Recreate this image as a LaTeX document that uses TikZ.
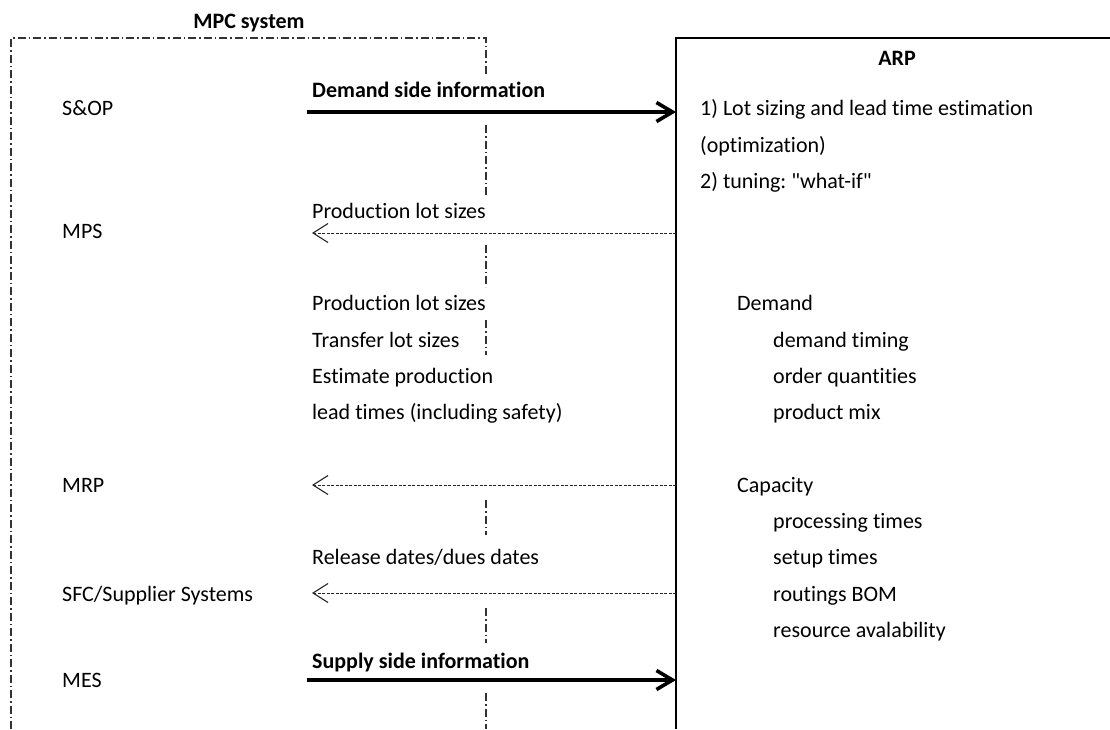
\documentclass[tikz,border=0pt]{standalone}
\usepackage{fontspec}
\setmainfont{Carlito}[Ligatures={TeXOff,NoCommon}]
\usetikzlibrary{arrows.meta}
\frenchspacing
\begin{document}
\begin{tikzpicture}[x=1pt,y=-1pt,
  every node/.style={font=\fontsize{22}{26}\selectfont, inner sep=0pt, text=black},
  lbl/.style={anchor=base west},
  blbl/.style={anchor=base west, font=\fontsize{22}{26}\selectfont\bfseries},
  ttl/.style={anchor=base, font=\fontsize{22}{26}\selectfont\bfseries},
  frame/.style={line width=1.3pt, black!80, dash pattern=on 8pt off 3pt on 1.5pt off 3pt},
  flowin/.style={line width=3.6pt, -{Straight Barb[length=16pt,width=19pt]}},
  flowback/.style={line width=1pt, black!85, dash pattern=on 3pt off 1.5pt,
                   -{Straight Barb[length=15pt,width=19pt,line width=1.1pt]}},
  arpedge/.style={line width=2.4pt}]
\useasboundingbox (0,0) rectangle (1110,729);

% MPC system frame (dash-dot), right side broken around the labels
\node[ttl] (mpc) at (249,28) {MPC system};
\draw[frame] (11,729) -- (11,38) -- (486,38) -- (486,75);
\foreach \a/\b in {125/197,245/287,320/355,500/535,608/643,693/729}
  \draw[frame] (486,\a) -- (486,\b);

% ARP box (open to the right and bottom)
\draw[arpedge] (676,729) -- (676,38) -- (1110,38);
\node[ttl] (arp) at (897,65) {ARP};

% MPC levels
\node[lbl] (sop) at (62,115) {S\&OP};
\node[lbl] (mps) at (62,238) {MPS};
\node[lbl] (mrp) at (62,492) {MRP};
\node[lbl] (sfc) at (62,601) {SFC/Supplier Systems};
\node[lbl] (mes) at (62,687) {MES};

% information flows
\node[blbl] (demand) at (312,97) {Demand side information};
\node[lbl] (plot1) at (312,218) {Production lot sizes};
\node[lbl] (plot2) at (312,310) {Production lot sizes};
\node[lbl] (tlot) at (312,347) {Transfer lot sizes};
\node[lbl] (estp) at (312,383) {Estimate production};
\node[lbl] (leadt) at (312,419) {lead times (including safety)};
\node[lbl] (rel) at (312,564) {Release dates/dues dates};
\node[blbl] (supply) at (312,668) {Supply side information};

% ARP contents
\node[lbl] (t1) at (700,115) {1) Lot sizing and lead time estimation};
\node[lbl] (t2) at (700,152) {(optimization)};
\node[lbl] (t3) at (700,188) {2) tuning: "what-if"};
\node[lbl] (dem) at (737,310) {Demand};
\node[lbl] (d1) at (773,347) {demand timing};
\node[lbl] (d2) at (773,383) {order quantities};
\node[lbl] (d3) at (773,419) {product mix};
\node[lbl] (cap) at (737,492) {Capacity};
\node[lbl] (c1) at (773,528) {processing times};
\node[lbl] (c2) at (773,564) {setup times};
\node[lbl] (c3) at (773,601) {routings BOM};
\node[lbl] (c4) at (773,637) {resource avalability};

% connector end points on the MPC side and on the ARP edge
\coordinate (dsrc) at (307,112);  \coordinate (dsink) at (676,112);
\coordinate (mpsin) at (312,233); \coordinate (mpsout) at (676,233);
\coordinate (mrpin) at (312,485); \coordinate (mrpout) at (676,485);
\coordinate (sfcin) at (312,593); \coordinate (sfcout) at (676,593);
\coordinate (ssrc) at (307,680);  \coordinate (ssink) at (676,680);

\draw[flowin] (dsrc) -- (dsink);
\draw[flowback] (mpsout) -- (mpsin);
\draw[flowback] (mrpout) -- (mrpin);
\draw[flowback] (sfcout) -- (sfcin);
\draw[flowin] (ssrc) -- (ssink);
\end{tikzpicture}
\end{document}
